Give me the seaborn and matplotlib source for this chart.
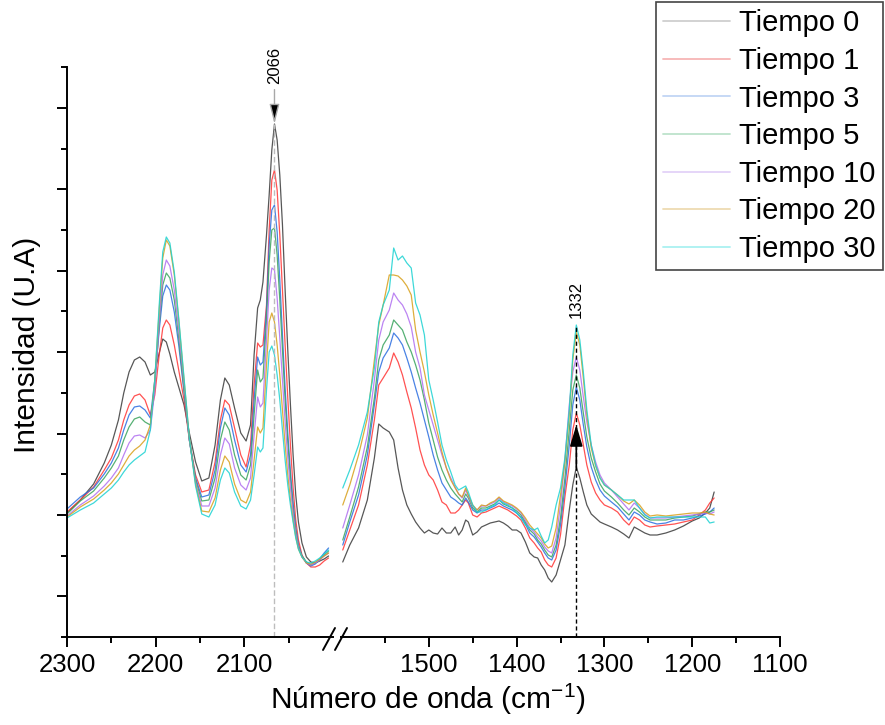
import numpy as np
import pandas as pd
import matplotlib
matplotlib.use("Agg")
import matplotlib.pyplot as plt
import seaborn as sns
from matplotlib.lines import Line2D
from matplotlib import font_manager as fm

sns.set_theme(style="white")
_names = {f.name for f in fm.fontManager.ttflist}
NARROW = "Liberation Sans Narrow" if "Liberation Sans Narrow" in _names else "Liberation Sans"
plt.rcParams["font.family"] = ["Liberation Sans", "DejaVu Sans"]
plt.rcParams["mathtext.fontset"] = "custom"
plt.rcParams["mathtext.rm"] = NARROW
plt.rcParams["text.color"] = "black"
plt.rcParams["xtick.color"] = "black"
plt.rcParams["ytick.color"] = "black"
plt.rcParams["axes.labelcolor"] = "black"

# ---------------- data ----------------
series = ["Tiempo 0", "Tiempo 1", "Tiempo 3", "Tiempo 5", "Tiempo 10", "Tiempo 20", "Tiempo 30"]
line_colors = ["#3a3a3a", "#ff3434", "#2a6de0", "#38a35c", "#b06ff0", "#d8a01a", "#1cd2d2"]
legend_colors = ["#cfcfcf", "#f7b5b5", "#c2d5f5", "#bde3cb", "#e3d2f8", "#eedbb2", "#aaf1f1"]

REF = 637  # readings are taken downward from this reference level; intensity = REF - reading

wn_left = [2300, 2285, 2270, 2258, 2250, 2242, 2236, 2230, 2224, 2218, 2212, 2206, 2201, 2196,
           2192, 2188, 2184, 2179, 2174, 2168, 2162, 2155, 2148, 2140, 2133, 2127, 2122, 2117,
           2111, 2104, 2098, 2093, 2089, 2085, 2082, 2079, 2075, 2072, 2069, 2066, 2063, 2060,
           2057, 2054, 2051, 2048, 2045, 2042, 2039, 2035, 2030, 2025, 2020, 2015, 2010, 2005]

left_t0 = [513, 500, 484, 463, 445, 420, 393, 372, 360, 357, 362, 375, 372, 353, 339, 342, 354, 372, 387, 405,
           433, 462, 481, 478, 445, 400, 378, 385, 408, 433, 441, 425, 355, 308, 300, 282, 235, 195, 150, 124,
           140, 175, 225, 290, 350, 405, 455, 495, 522, 543, 557, 562, 563, 561, 559, 556]
left_t1 = [512, 500, 487, 470, 458, 440, 420, 405, 396, 394, 400, 415, 395, 355, 328, 320, 325, 345, 370, 400,
           440, 475, 492, 490, 462, 420, 400, 405, 428, 455, 467, 445, 385, 343, 347, 345, 305, 230, 180, 170,
           190, 235, 290, 345, 398, 445, 488, 520, 540, 555, 563, 567, 567, 565, 561, 558]
left_t3 = [509, 497, 488, 474, 463, 448, 430, 415, 407, 406, 410, 418, 380, 330, 296, 285, 290, 312, 345, 392,
           440, 478, 497, 495, 470, 428, 408, 415, 440, 465, 472, 455, 400, 357, 365, 362, 310, 245, 210, 205,
           232, 280, 335, 388, 433, 472, 503, 528, 545, 556, 563, 566, 564, 559, 553, 548]
left_t5 = [514, 501, 491, 478, 468, 456, 440, 427, 419, 417, 422, 425, 385, 325, 285, 273, 278, 300, 338, 390,
           440, 480, 501, 500, 478, 440, 422, 430, 455, 475, 480, 465, 415, 370, 382, 378, 320, 262, 230, 228,
           255, 300, 350, 400, 442, 478, 508, 530, 546, 556, 562, 565, 563, 560, 555, 551]
left_t10 = [516, 505, 496, 486, 478, 468, 455, 443, 436, 435, 438, 430, 390, 322, 275, 260, 266, 290, 330, 385,
            440, 482, 506, 506, 488, 455, 438, 444, 468, 485, 490, 478, 435, 397, 407, 403, 340, 290, 268, 270,
            298, 338, 380, 422, 458, 488, 513, 533, 547, 557, 563, 565, 563, 560, 556, 553]
left_t20 = [517, 507, 499, 490, 483, 474, 465, 456, 450, 446, 440, 425, 380, 310, 258, 240, 246, 275, 320, 380,
            438, 484, 511, 512, 498, 470, 456, 462, 484, 500, 503, 492, 460, 427, 433, 428, 365, 322, 313, 322,
            345, 375, 410, 445, 475, 500, 520, 537, 549, 557, 563, 564, 562, 559, 556, 553]
left_t30 = [518, 510, 503, 494, 488, 480, 472, 465, 460, 456, 452, 430, 380, 305, 252, 237, 243, 272, 318, 378,
            438, 486, 514, 517, 505, 480, 468, 473, 492, 506, 509, 500, 475, 447, 452, 448, 390, 352, 346, 355,
            375, 400, 430, 460, 485, 505, 522, 538, 549, 557, 562, 563, 561, 558, 554, 550]

wn_right = [1598, 1590, 1580, 1570, 1562, 1557, 1552, 1545, 1540, 1535, 1530, 1525, 1520, 1515, 1510,
            1505, 1500, 1495, 1490, 1485, 1480, 1475, 1470, 1466, 1462, 1458, 1455, 1450, 1445, 1440,
            1435, 1430, 1425, 1420, 1415, 1410, 1405, 1400, 1395, 1390, 1385, 1380, 1376, 1372, 1368,
            1364, 1360, 1355, 1350, 1345, 1340, 1336, 1332, 1328, 1324, 1320, 1315, 1310, 1305, 1300,
            1292, 1285, 1278, 1272, 1266, 1260, 1254, 1248, 1240, 1230, 1220, 1210, 1200, 1192, 1185,
            1180, 1175]

right_t0 = [562, 545, 528, 500, 458, 424, 428, 432, 440, 468, 490, 505, 514, 522, 528,
            533, 530, 533, 534, 528, 533, 533, 527, 535, 530, 520, 522, 535, 532, 527,
            525, 523, 522, 521, 523, 526, 530, 530, 533, 542, 553, 557, 558, 565, 570,
            578, 582, 575, 560, 545, 510, 485, 467, 478, 492, 505, 514, 518, 522, 524,
            527, 530, 534, 538, 527, 530, 533, 535, 535, 533, 530, 526, 521, 518, 513,
            508, 492]
right_t1 = [550, 530, 505, 465, 420, 385, 378, 368, 353, 362, 375, 392, 408, 428, 450,
            465, 475, 480, 490, 502, 505, 513, 513, 510, 505, 500, 503, 515, 517, 513,
            512, 510, 508, 506, 508, 510, 513, 516, 520, 528, 538, 543, 548, 552, 560,
            565, 567, 558, 535, 497, 465, 430, 413, 425, 445, 465, 482, 493, 500, 505,
            508, 512, 520, 525, 517, 520, 525, 527, 526, 525, 524, 522, 520, 515, 510,
            503, 498]
right_t3 = [545, 522, 495, 455, 405, 372, 358, 348, 333, 338, 345, 358, 372, 388, 403,
            420, 437, 455, 470, 483, 490, 497, 500, 503, 505, 498, 502, 510, 513, 510,
            510, 508, 506, 503, 506, 508, 510, 513, 517, 524, 533, 537, 542, 547, 553,
            558, 560, 550, 525, 488, 445, 405, 387, 400, 425, 447, 467, 480, 490, 496,
            502, 507, 514, 520, 512, 515, 520, 522, 524, 523, 520, 520, 518, 516, 514,
            512, 508]
right_t5 = [540, 517, 487, 447, 398, 360, 345, 335, 320, 325, 330, 342, 352, 365, 380,
            400, 423, 440, 457, 470, 480, 488, 494, 498, 502, 494, 498, 508, 512, 508,
            508, 506, 504, 500, 504, 506, 508, 511, 515, 522, 530, 534, 540, 544, 550,
            555, 557, 545, 518, 478, 430, 390, 375, 388, 413, 437, 458, 472, 484, 491,
            497, 503, 510, 515, 508, 512, 517, 520, 520, 520, 518, 517, 516, 514, 512,
            512, 510]
right_t10 = [528, 505, 475, 435, 380, 340, 322, 310, 293, 300, 305, 314, 327, 352, 368,
             395, 410, 425, 440, 455, 468, 478, 487, 494, 498, 490, 496, 506, 510, 506,
             506, 504, 502, 498, 502, 504, 506, 509, 513, 520, 528, 532, 537, 541, 547,
             551, 553, 538, 505, 460, 405, 372, 357, 370, 397, 422, 445, 462, 475, 483,
             490, 497, 504, 510, 503, 508, 514, 518, 518, 518, 517, 516, 515, 514, 513,
             514, 512]
right_t20 = [505, 485, 455, 418, 360, 325, 305, 275, 275, 276, 280, 286, 295, 330, 352,
             372, 395, 415, 433, 452, 468, 480, 488, 494, 497, 488, 495, 505, 510, 505,
             506, 503, 501, 497, 501, 503, 505, 508, 512, 518, 525, 530, 534, 538, 544,
             548, 546, 528, 495, 462, 415, 360, 332, 345, 378, 415, 448, 466, 478, 485,
             490, 495, 501, 504, 500, 505, 512, 516, 515, 516, 515, 514, 513, 513, 512,
             514, 515]
right_t30 = [488, 470, 445, 412, 368, 322, 305, 290, 248, 260, 256, 263, 268, 303, 315,
             335, 380, 400, 422, 445, 460, 472, 485, 490, 488, 486, 492, 505, 512, 512,
             510, 507, 505, 500, 503, 505, 508, 513, 518, 525, 528, 530, 528, 536, 543,
             540, 527, 505, 488, 458, 410, 355, 325, 340, 372, 410, 445, 465, 478, 485,
             490, 495, 500, 500, 500, 508, 515, 518, 517, 517, 517, 517, 517, 517, 517,
             523, 522]

left_readings = [left_t0, left_t1, left_t3, left_t5, left_t10, left_t20, left_t30]
right_readings = [right_t0, right_t1, right_t3, right_t5, right_t10, right_t20, right_t30]

x_major_left = [2300, 2200, 2100]
x_minor_left = [2250, 2150, 2050]
x_major_right = [1500, 1400, 1300, 1200, 1100]
x_minor_right = [1550, 1450, 1350, 1250, 1150]

PEAK_A = 2066
PEAK_B = 1332
ARROW_B_TIP = 212     # intensity where the 1332 arrow head ends
LABEL_A_Y = 572       # intensity level of the "2066" label
LABEL_B_Y = 338       # intensity level of the "1332" label


def to_frame(wn, readings):
    rows = []
    for name, vals in zip(series, readings):
        for w, v in zip(wn, vals):
            rows.append({"wn": w, "I": REF - v, "serie": name})
    return pd.DataFrame(rows)


df_left = to_frame(wn_left, left_readings)
df_right = to_frame(wn_right, right_readings)

# ---------------- figure ----------------
W, H = 885, 725
fig = plt.figure(figsize=(W / 100, H / 100), dpi=100)
bottom = 1 - 637 / H
height = 570 / H
axL = fig.add_axes([67 / W, bottom, (333 - 67) / W, height])
axR = fig.add_axes([341 / W, bottom, (780 - 341) / W, height])

for ax, df in ((axL, df_left), (axR, df_right)):
    sns.lineplot(data=df, x="wn", y="I", hue="serie", hue_order=series, palette=line_colors,
                 sort=False, estimator=None, legend=False, linewidth=0.9, alpha=0.85, ax=ax)
    ax.set_ylim(0, 570)
    ax.set_xlabel("")
    ax.set_ylabel("")
    ax.set_facecolor("none")
    for s in ("top", "right"):
        ax.spines[s].set_visible(False)
    for s in ("left", "bottom"):
        ax.spines[s].set_linewidth(1.4)
        ax.spines[s].set_color("black")

axL.set_xlim(2300, 2000)
axR.set_xlim(1600, 1100)
axR.spines["left"].set_visible(False)

axL.set_xticks(x_major_left)
axL.set_xticks(x_minor_left, minor=True)
axR.set_xticks(x_major_right)
axR.set_xticks(x_minor_right, minor=True)

axL.set_yticks(np.arange(40.7, 570, 81.4))
axL.set_yticks(np.arange(0, 571, 40.7), minor=True)
axL.set_yticklabels([])
axR.set_yticks([])
axR.set_yticks([], minor=True)

for ax in (axL, axR):
    ax.tick_params(axis="both", which="major", direction="out", length=7.5, width=1.4,
                   color="black", labelsize=18.5, labelcolor="black", pad=4,
                   bottom=True, left=(ax is axL))
    ax.tick_params(axis="both", which="minor", direction="out", length=4.5, width=1.4,
                   color="black", bottom=True, left=(ax is axL))
    for lab in ax.get_xticklabels():
        lab.set_fontfamily(NARROW)

# ---------------- annotations ----------------
peak_a = REF - min(left_t0)
axL.vlines(PEAK_A, 0, peak_a, colors="#bdbdbd", linestyles=(0, (4, 2)), linewidth=1.0)
axL.annotate("2066", xy=(PEAK_A, peak_a), xytext=(PEAK_A, LABEL_A_Y), textcoords="data",
             rotation=90, ha="center", va="center", fontsize=12, annotation_clip=False,
             arrowprops=dict(arrowstyle="-|>,head_length=1.0,head_width=0.25",
                             ec="#a8a8a8", fc="black", lw=1.0, shrinkA=2, shrinkB=0))

ib = wn_right.index(PEAK_B)
top_b = REF - right_t30[ib]
base_b = REF - right_t0[ib]
axR.vlines(PEAK_B, 0, top_b, colors="black", linestyles=(0, (3, 2)), linewidth=1.0)
axR.annotate("", xy=(PEAK_B, ARROW_B_TIP), xytext=(PEAK_B, base_b),
             arrowprops=dict(arrowstyle="-|>,head_length=1.0,head_width=0.3",
                             color="black", lw=1.2, shrinkA=0, shrinkB=0, mutation_scale=13))
axR.text(PEAK_B, LABEL_B_Y, "1332", rotation=90, ha="center", va="center", fontsize=12)

# axis break marks
for cx in (329, 341):
    fig.add_artist(Line2D([(cx - 6) / W, (cx + 6) / W], [1 - 650 / H, 1 - 628 / H],
                          transform=fig.transFigure, color="black", lw=1.4))

# labels
fig.text(428 / W, 1 - 699 / H, "Número de onda (cm$^{\\mathregular{-1}}$)", ha="center", va="center",
         fontsize=21.5, family=NARROW)
fig.text(27 / W, 1 - 345 / H, "Intensidad (U.A)", rotation=90, ha="center", va="center", fontsize=21.5)

# legend
handles = [Line2D([], [], color=c, lw=1.3) for c in legend_colors]
leg = fig.legend(handles, series, loc="upper right", bbox_to_anchor=(883 / W, 1 - 2 / H),
                 bbox_transform=fig.transFigure, frameon=True, fancybox=False, framealpha=1,
                 edgecolor="#444444", fontsize=21, handlelength=2.3, handletextpad=0.3,
                 labelspacing=0.33, borderpad=0.25, borderaxespad=0)
leg.get_frame().set_linewidth(1.2)

fig.savefig("out.png", dpi=100)
